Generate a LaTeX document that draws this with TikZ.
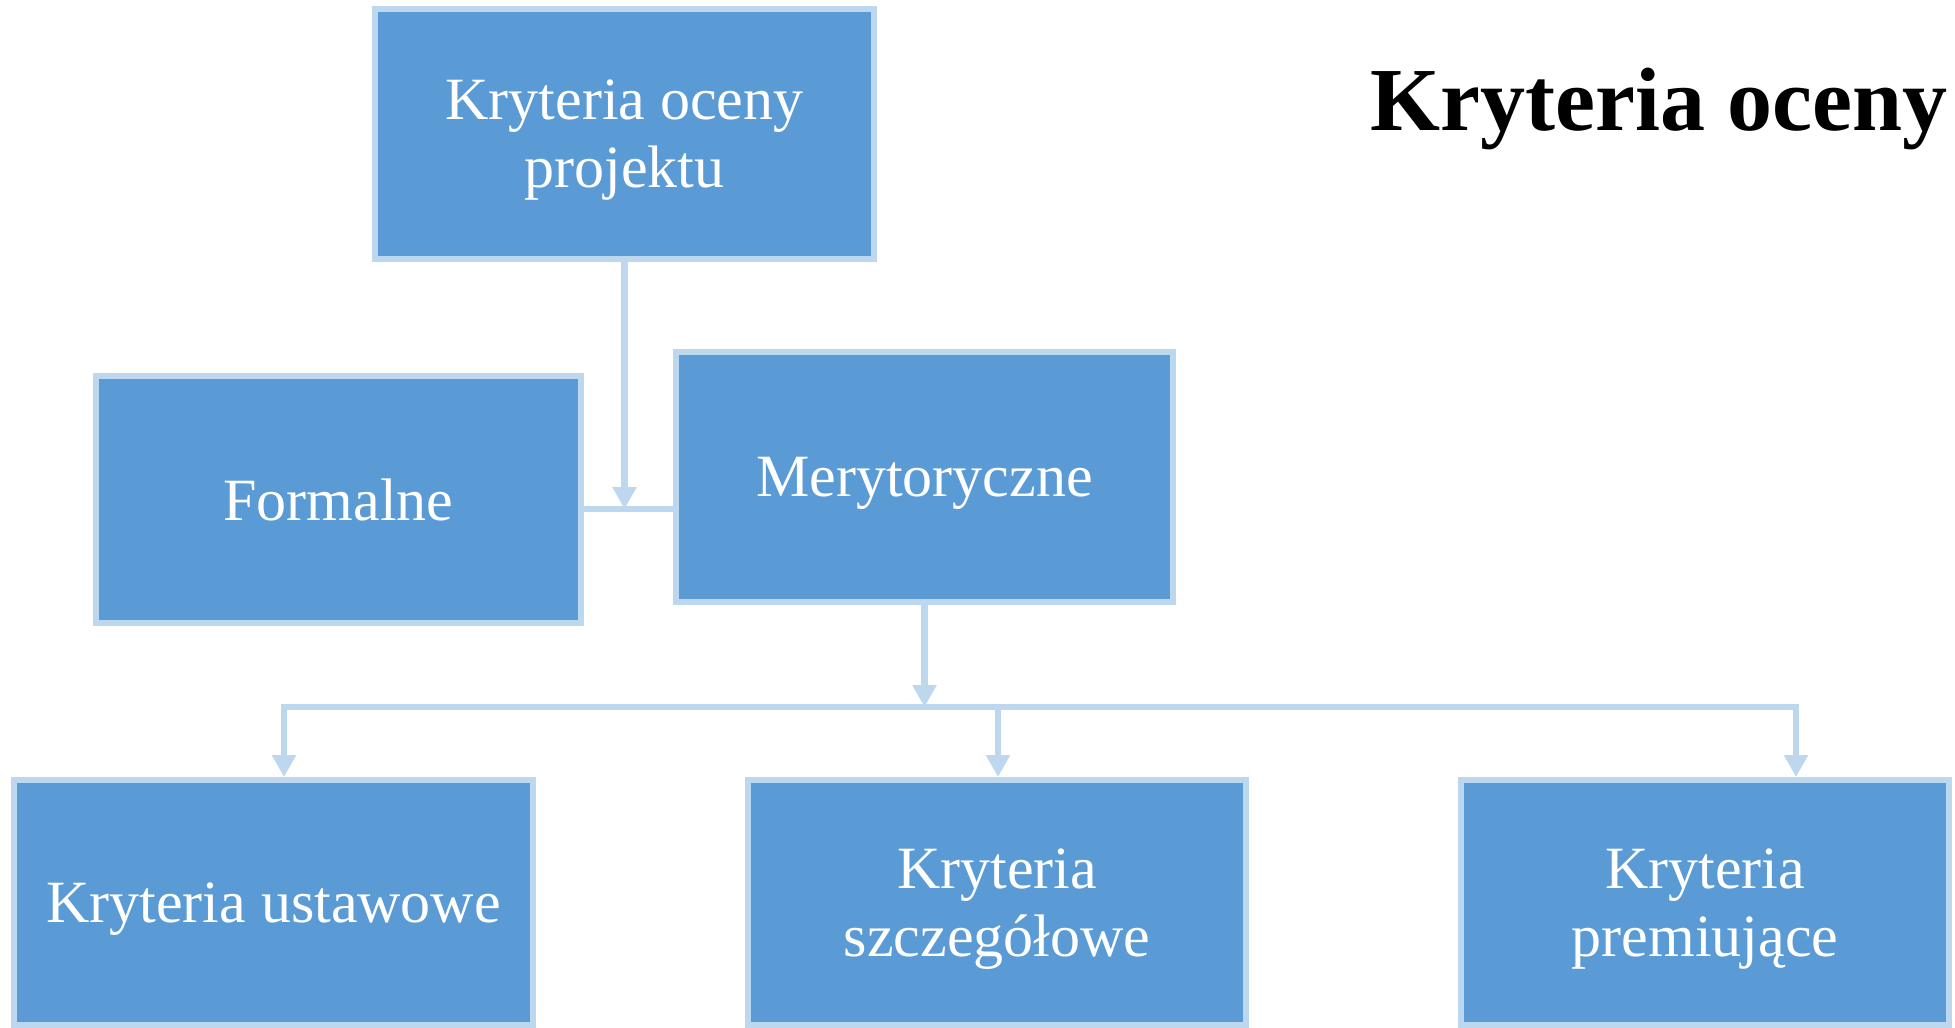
\documentclass[tikz,border=0pt]{standalone}
\usepackage{fontspec}
\setmainfont{Liberation Serif}
\usetikzlibrary{arrows.meta}
\definecolor{boxfill}{HTML}{5B9BD5}
\definecolor{boxline}{HTML}{BDD7EE}
\tikzset{
  box/.style={draw=boxline, fill=boxfill, line width=3pt, inner sep=0pt,
    text=white, align=center, text depth=0pt, font=\fontsize{30}{34}\selectfont},
  conn/.style={draw=boxline, line width=3.4pt},
  arr/.style={conn, -{Triangle[width=11.5pt,length=11pt]}},
}
\begin{document}
\begin{tikzpicture}[x=0.5pt,y=-0.5pt]
\useasboundingbox (0,0) rectangle (1955,1028);
% boxes
\node[box, minimum width=249.5pt, minimum height=125pt] (top) at (624.5,134) {Kryteria oceny\\projektu};
\node[box, minimum width=242.5pt, minimum height=123.5pt] (form) at (338.5,499.5) {Formalne};
\node[box, minimum width=248.5pt, minimum height=125pt] (mer) at (924.5,477) {Merytoryczne};
\node[box, minimum width=259.5pt, minimum height=122.5pt] (ust) at (273.5,902.5) {Kryteria ustawowe};
\node[box, minimum width=249pt, minimum height=122.5pt] (szc) at (997,902.5) {Kryteria\\szczegółowe};
\node[box, minimum width=244pt, minimum height=122.5pt] (pre) at (1705,902.5) {Kryteria\\premiujące};
% title
\node[anchor=base west, inner sep=0pt, font=\fontsize{45}{54}\selectfont\bfseries] (title) at (1370,130) {Kryteria oceny};
% junctions
\coordinate (j1) at (624,509);
\coordinate (j2) at (925,707);
\coordinate (b1) at (284,707);
\coordinate (b2) at (998,707);
\coordinate (b3) at (1796,707);
% connectors
\draw[conn] (form.east |- j1) -- (mer.west |- j1);
\draw[arr] (top.south) -- (top.south |- j1);
\draw[conn, line cap=rect] (b1) -- (b3);
\draw[arr] (mer.south) -- (mer.south |- j2);
\draw[arr] (b1) -- (b1 |- ust.north);
\draw[arr] (b2) -- (b2 |- szc.north);
\draw[arr] (b3) -- (b3 |- pre.north);
\end{tikzpicture}
\end{document}
